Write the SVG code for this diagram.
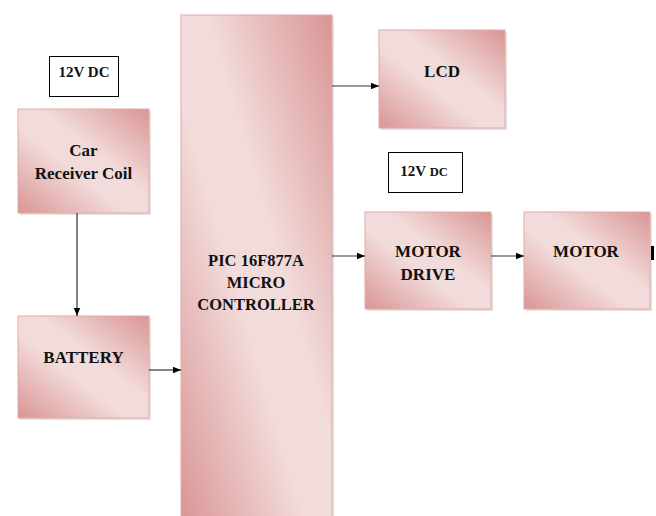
<svg xmlns="http://www.w3.org/2000/svg" width="656" height="516" viewBox="0 0 656 516">
<defs>
<linearGradient id="g" x1="1" y1="0" x2="0" y2="1">
<stop offset="0" stop-color="#d99594"/>
<stop offset="0.42" stop-color="#f2dcdb"/>
<stop offset="0.58" stop-color="#f2dcdb"/>
<stop offset="1" stop-color="#d99594"/>
</linearGradient>
<marker id="ah" viewBox="0 0 10 10" refX="10" refY="5" markerWidth="8" markerHeight="8" markerUnits="userSpaceOnUse" orient="auto">
<path d="M0,1 L10,5 L0,9 z" fill="#000"/>
</marker>
<style>
.box{fill:url(#g);stroke:#e2aaa9;stroke-width:1}
.sh{fill:#c9c4c4;opacity:0.5}
.lbl{fill:#fff;stroke:#000;stroke-width:1}
.t{font-family:"Liberation Serif","Times New Roman",serif;font-weight:bold;fill:#111;text-anchor:middle}
.c{stroke:#333;stroke-width:1.2;fill:none;marker-end:url(#ah)}
</style>
</defs>
<rect width="656" height="516" fill="#fff"/>
<g id="dc1">
<rect class="lbl" x="49.5" y="56.5" width="69" height="40"/>
<text class="t" x="84" y="77" font-size="15">12V DC</text>
</g>
<g id="coil">
<rect class="sh" x="20" y="111" width="131" height="104"/>
<rect class="box" x="18" y="109" width="131" height="104"/>
<text class="t" x="83.5" y="156" font-size="17">Car</text>
<text class="t" x="83.5" y="179" font-size="17">Receiver Coil</text>
</g>
<g id="battery">
<rect class="sh" x="20" y="318" width="131" height="102"/>
<rect class="box" x="18" y="316" width="131" height="102"/>
<text class="t" x="83.5" y="363" font-size="17">BATTERY</text>
</g>
<g id="micro">
<rect class="sh" x="183" y="17" width="151" height="510"/>
<rect class="box" x="181" y="15" width="151" height="510"/>
<text class="t" x="256" y="266" font-size="16.5">PIC 16F877A</text>
<text class="t" x="256" y="288" font-size="16.5">MICRO</text>
<text class="t" x="256" y="310" font-size="16.5">CONTROLLER</text>
</g>
<g id="lcd">
<rect class="sh" x="381" y="32" width="126" height="98"/>
<rect class="box" x="379" y="30" width="126" height="98"/>
<text class="t" x="442" y="77" font-size="17">LCD</text>
</g>
<g id="dc2">
<rect class="lbl" x="388.5" y="152.5" width="74" height="40"/>
<text class="t" x="424" y="176" font-size="15">12V <tspan font-size="12.5">DC</tspan></text>
</g>
<g id="drive">
<rect class="sh" x="367" y="214" width="126" height="97"/>
<rect class="box" x="365" y="212" width="126" height="97"/>
<text class="t" x="428" y="257" font-size="17">MOTOR</text>
<text class="t" x="428" y="280" font-size="17">DRIVE</text>
</g>
<g id="motor">
<rect class="sh" x="526" y="214" width="126" height="97"/>
<rect class="box" x="524" y="212" width="126" height="97"/>
<text class="t" x="586" y="257" font-size="17">MOTOR</text>
</g>
<g id="connectors">
<line class="c" x1="77" y1="213" x2="77" y2="316"/>
<line class="c" x1="149" y1="370" x2="181" y2="370"/>
<line class="c" x1="332" y1="86" x2="379" y2="86"/>
<line class="c" x1="332" y1="256" x2="365" y2="256"/>
<line class="c" x1="491" y1="256" x2="524" y2="256"/>
<rect x="651" y="246" width="3" height="14" fill="#000"/>
</g>
</svg>
